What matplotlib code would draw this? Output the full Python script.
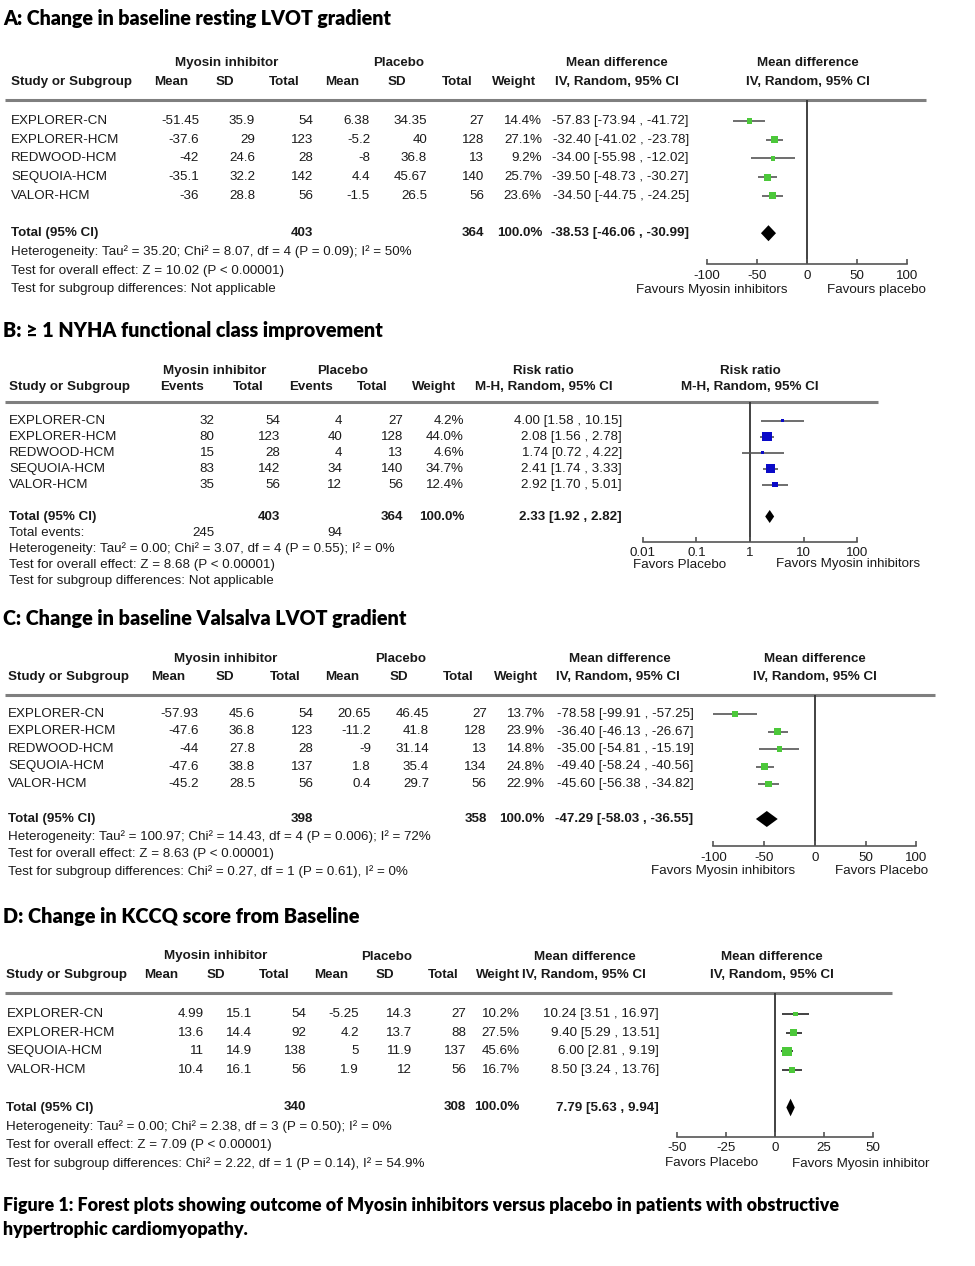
import matplotlib
matplotlib.use('Agg')
import matplotlib.pyplot as plt
from matplotlib.transforms import blended_transform_factory as blend
import numpy as np

plt.rcParams['font.family'] = ['Liberation Sans', 'DejaVu Sans']

# ---------------- DATA ----------------
# Panel A: Change in baseline resting LVOT gradient
A_studies = ['EXPLORER-CN', 'EXPLORER-HCM', 'REDWOOD-HCM', 'SEQUOIA-HCM', 'VALOR-HCM']
A_mi_mean = [-51.45, -37.6, -42, -35.1, -36]
A_mi_sd = [35.9, 29, 24.6, 32.2, 28.8]
A_mi_n = [54, 123, 28, 142, 56]
A_pl_mean = [6.38, -5.2, -8, 4.4, -1.5]
A_pl_sd = [34.35, 40, 36.8, 45.67, 26.5]
A_pl_n = [27, 128, 13, 140, 56]
A_weight = [14.4, 27.1, 9.2, 25.7, 23.6]
A_est = [-57.83, -32.40, -34.00, -39.50, -34.50]
A_lo = [-73.94, -41.02, -55.98, -48.73, -44.75]
A_hi = [-41.72, -23.78, -12.02, -30.27, -24.25]
A_total = [403, 364, -38.53, -46.06, -30.99]
A_notes = ['Heterogeneity: Tau\u00b2 = 35.20; Chi\u00b2 = 8.07, df = 4 (P = 0.09); I\u00b2 = 50%',
           'Test for overall effect: Z = 10.02 (P < 0.00001)',
           'Test for subgroup differences: Not applicable']
A_ticks = [-100, -50, 0, 50, 100]

# Panel B: >= 1 NYHA functional class improvement
B_studies = ['EXPLORER-CN', 'EXPLORER-HCM', 'REDWOOD-HCM', 'SEQUOIA-HCM', 'VALOR-HCM']
B_mi_ev = [32, 80, 15, 83, 35]
B_mi_n = [54, 123, 28, 142, 56]
B_pl_ev = [4, 40, 4, 34, 12]
B_pl_n = [27, 128, 13, 140, 56]
B_weight = [4.2, 44.0, 4.6, 34.7, 12.4]
B_est = [4.00, 2.08, 1.74, 2.41, 2.92]
B_lo = [1.58, 1.56, 0.72, 1.74, 1.70]
B_hi = [10.15, 2.78, 4.22, 3.33, 5.01]
B_total = [403, 364, 2.33, 1.92, 2.82]
B_events = [245, 94]
B_notes = ['Heterogeneity: Tau\u00b2 = 0.00; Chi\u00b2 = 3.07, df = 4 (P = 0.55); I\u00b2 = 0%',
           'Test for overall effect: Z = 8.68 (P < 0.00001)',
           'Test for subgroup differences: Not applicable']
B_ticks = [0.01, 0.1, 1, 10, 100]
B_ticklabels = ['0.01', '0.1', '1', '10', '100']

# Panel C: Change in baseline Valsalva LVOT gradient
C_studies = ['EXPLORER-CN', 'EXPLORER-HCM', 'REDWOOD-HCM', 'SEQUOIA-HCM', 'VALOR-HCM']
C_mi_mean = [-57.93, -47.6, -44, -47.6, -45.2]
C_mi_sd = [45.6, 36.8, 27.8, 38.8, 28.5]
C_mi_n = [54, 123, 28, 137, 56]
C_pl_mean = [20.65, -11.2, -9, 1.8, 0.4]
C_pl_sd = [46.45, 41.8, 31.14, 35.4, 29.7]
C_pl_n = [27, 128, 13, 134, 56]
C_weight = [13.7, 23.9, 14.8, 24.8, 22.9]
C_est = [-78.58, -36.40, -35.00, -49.40, -45.60]
C_lo = [-99.91, -46.13, -54.81, -58.24, -56.38]
C_hi = [-57.25, -26.67, -15.19, -40.56, -34.82]
C_total = [398, 358, -47.29, -58.03, -36.55]
C_notes = ['Heterogeneity: Tau\u00b2 = 100.97; Chi\u00b2 = 14.43, df = 4 (P = 0.006); I\u00b2 = 72%',
           'Test for overall effect: Z = 8.63 (P < 0.00001)',
           'Test for subgroup differences: Chi\u00b2 = 0.27, df = 1 (P = 0.61), I\u00b2 = 0%']
C_ticks = [-100, -50, 0, 50, 100]

# Panel D: Change in KCCQ score from Baseline
D_studies = ['EXPLORER-CN', 'EXPLORER-HCM', 'SEQUOIA-HCM', 'VALOR-HCM']
D_mi_mean = [4.99, 13.6, 11, 10.4]
D_mi_sd = [15.1, 14.4, 14.9, 16.1]
D_mi_n = [54, 92, 138, 56]
D_pl_mean = [-5.25, 4.2, 5, 1.9]
D_pl_sd = [14.3, 13.7, 11.9, 12]
D_pl_n = [27, 88, 137, 56]
D_weight = [10.2, 27.5, 45.6, 16.7]
D_est = [10.24, 9.40, 6.00, 8.50]
D_lo = [3.51, 5.29, 2.81, 3.24]
D_hi = [16.97, 13.51, 9.19, 13.76]
D_total = [340, 308, 7.79, 5.63, 9.94]
D_notes = ['Heterogeneity: Tau\u00b2 = 0.00; Chi\u00b2 = 2.38, df = 3 (P = 0.50); I\u00b2 = 0%',
           'Test for overall effect: Z = 7.09 (P < 0.00001)',
           'Test for subgroup differences: Chi\u00b2 = 2.22, df = 1 (P = 0.14), I\u00b2 = 54.9%']
D_ticks = [-50, -25, 0, 25, 50]

titles = ['A: Change in baseline resting LVOT gradient',
          'B: \u2265 1 NYHA functional class improvement',
          'C: Change in baseline Valsalva LVOT gradient',
          'D: Change in KCCQ score from Baseline']
caption = ['Figure 1: Forest plots showing outcome of Myosin inhibitors versus placebo in patients with obstructive',
           'hypertrophic cardiomyopathy.']

# ---------------- STYLE ----------------
W, H = 975, 1266
FS = 9.6
TXT = '#1a1a1a'
GREEN = '#4cc83a'
BLUE = '#0a0ac8'
TITLE_FONT = ['Lato', 'DejaVu Sans']
fig = plt.figure(figsize=(W / 100, H / 100), dpi=100)
bg = fig.add_axes([0, 0, 1, 1])
bg.set_xlim(0, W)
bg.set_ylim(H, 0)
bg.axis('off')
renderer = fig.canvas.get_renderer()


def fit_text(x, y, s, right, fs=12, **kw):
    t = bg.text(x, y, s, fontsize=fs, **kw)
    w = t.get_window_extent(renderer=renderer).width
    t.set_fontsize(fs * (right - x) / w)
    return t


def fmt(v):
    return f'{v:g}'


def ci(e, l, h):
    return f'{e:.2f} [{l:.2f} , {h:.2f}]'


def forest_axes(L):
    x0, x1 = L['px']
    y0 = L['row0']
    dy = L['dy']
    ax = fig.add_axes([x0 / W, 1 - L['axis_y'] / H, (x1 - x0) / W, (L['axis_y'] - L['line_y']) / H])
    ax.set_ylim((L['axis_y'] - y0) / dy, (L['line_y'] - y0) / dy)
    ax.patch.set_alpha(0)
    for s in ['top', 'left', 'right']:
        ax.spines[s].set_visible(False)
    ax.spines['bottom'].set_color('#555555')
    ax.spines['bottom'].set_linewidth(1.2)
    ax.set_yticks([])
    ax.tick_params(axis='x', direction='in', length=3.5, width=1.2, color='#555555',
                   labelsize=FS, labelcolor=TXT, pad=4)
    return ax


def draw_panel(L, title, hdr1, hdr2, rows, total_cells, extra_rows, notes,
               est, lo, hi, weight, tot_est, color, ticks, ticklabels, favours, log=False, ci_color='#555555'):
    ax = forest_axes(L)
    tr = blend(bg.transData, ax.transData)
    fit_text(3, L['title_y'], title, L['title_r'], fontweight='heavy', va='center', ha='left',
             color='black', family=TITLE_FONT)
    # headers
    for txt, x in hdr1:
        bg.text(x, L['h1'], txt, fontsize=FS, fontweight='bold', ha='center', va='center', color=TXT)
    for txt, x in hdr2:
        ha = 'left' if txt == 'Study or Subgroup' else 'center'
        bg.text(x, L['h2'], txt, fontsize=FS, fontweight='bold', ha=ha, va='center', color=TXT)
    bg.plot([5, L['line_x1']], [L['line_y'], L['line_y']], color='#7f7f7f', lw=2.2, solid_capstyle='butt')
    # rows
    n = len(rows)
    for i, cells in enumerate(rows):
        for txt, x, ha in cells:
            ax.text(x, i, txt, transform=tr, fontsize=FS, ha=ha, va='center', color=TXT)
    ti = n + 1
    for txt, x, ha in total_cells:
        ax.text(x, ti, txt, transform=tr, fontsize=FS, ha=ha, va='center', color=TXT, fontweight='bold')
    k = ti + 1
    for cells in extra_rows:
        for txt, x, ha in cells:
            ax.text(x, k, txt, transform=tr, fontsize=FS, ha=ha, va='center', color=TXT)
        k += 1
    for txt in notes:
        ax.text(L['x_study'], k, txt, transform=tr, fontsize=FS, ha='left', va='center', color=TXT)
        k += 1
    # forest marks
    if log:
        ax.set_xscale('log')
        ax.minorticks_off()
    ax.set_xlim(ticks[0], ticks[-1])
    ax.set_xticks(ticks)
    ax.set_xticklabels(ticklabels)
    ax.axvline(L['ref'], color='#333333', lw=1.3, zorder=1)
    yy = np.arange(n)
    ax.hlines(yy, lo, hi, color=ci_color, lw=1.2, zorder=2)
    side_pt = 1.4 * np.sqrt(np.array(weight)) * 0.72 * L.get('sq', 1.0)
    ax.scatter(est, yy, marker='s', s=side_pt ** 2, color=color, linewidths=0, zorder=3)
    e, l, h = tot_est
    hh = L['dh'] / L['dy']
    ax.fill([l, e, h, e], [ti, ti - hh, ti, ti + hh], color='black', lw=0, zorder=3)
    # right header
    bg.text(L['rx'], L['h1'], L['rh1'], fontsize=FS, fontweight='bold', ha='center', va='center', color=TXT)
    bg.text(L['rx'], L['h2'], L['rh2'], fontsize=FS, fontweight='bold', ha='center', va='center', color=TXT)
    bg.text(favours[0][1], L['fav_y'], favours[0][0], fontsize=FS, ha='center', va='center', color=TXT)
    bg.text(favours[1][1], L['fav_y'], favours[1][0], fontsize=FS, ha='center', va='center', color=TXT)
    return ax


# ---------------- Panel A ----------------
LA = dict(title_y=19, title_r=391, h1=63, h2=82, line_y=100, line_x1=926, row0=121, dy=18.7, axis_y=264,
          px=(707, 907), ref=0, dh=8, rx=808, rh1='Mean difference', rh2='IV, Random, 95% CI',
          fav_y=290, x_study=11)
colsA = [199, 255, 313, 370, 427, 484, 542, 689]
rowsA = []
for i in range(len(A_studies)):
    vals = [fmt(A_mi_mean[i]), fmt(A_mi_sd[i]), str(A_mi_n[i]), fmt(A_pl_mean[i]), fmt(A_pl_sd[i]),
            str(A_pl_n[i]), f'{A_weight[i]:.1f}%', ci(A_est[i], A_lo[i], A_hi[i])]
    rowsA.append([(A_studies[i], 11, 'left')] + [(v, x, 'right') for v, x in zip(vals, colsA)])
draw_panel(LA, titles[0],
           [('Myosin inhibitor', 227), ('Placebo', 399), ('Mean difference', 617)],
           [('Study or Subgroup', 11), ('Mean', 171), ('SD', 225), ('Total', 284), ('Mean', 342),
            ('SD', 397), ('Total', 457), ('Weight', 514), ('IV, Random, 95% CI', 617)],
           rowsA,
           [('Total (95% CI)', 11, 'left'), (str(A_total[0]), 313, 'right'), (str(A_total[1]), 484, 'right'),
            ('100.0%', 542, 'right'), (ci(*A_total[2:]), 689, 'right')],
           [], A_notes, A_est, A_lo, A_hi, A_weight, A_total[2:], GREEN,
           A_ticks, [str(t) for t in A_ticks],
           [('Favours Myosin inhibitors', 712), ('Favours placebo', 876)])

# ---------------- Panel B ----------------
LB = dict(title_y=331, title_r=381, h1=371, h2=387, line_y=402, line_x1=878, row0=420.5, dy=16, axis_y=541.7,
          px=(642.7, 857.3), ref=1, dh=6.5, rx=750, rh1='Risk ratio', rh2='M-H, Random, 95% CI',
          fav_y=564.5, x_study=9, sq=1.05)
colsB = [214.6, 280, 342, 403, 464, 622]
rowsB = []
for i in range(len(B_studies)):
    vals = [str(B_mi_ev[i]), str(B_mi_n[i]), str(B_pl_ev[i]), str(B_pl_n[i]), f'{B_weight[i]:.1f}%',
            ci(B_est[i], B_lo[i], B_hi[i])]
    rowsB.append([(B_studies[i], 9, 'left')] + [(v, x, 'right') for v, x in zip(vals, colsB)])
draw_panel(LB, titles[1],
           [('Myosin inhibitor', 214.6), ('Placebo', 342.6), ('Risk ratio', 543.6)],
           [('Study or Subgroup', 9), ('Events', 182), ('Total', 248), ('Events', 311), ('Total', 372.6),
            ('Weight', 434), ('M-H, Random, 95% CI', 543.6)],
           rowsB,
           [('Total (95% CI)', 9, 'left'), (str(B_total[0]), 280, 'right'), (str(B_total[1]), 403, 'right'),
            ('100.0%', 464, 'right'), (ci(*B_total[2:]), 622, 'right')],
           [[('Total events:', 9, 'left'), (str(B_events[0]), 214.6, 'right'), (str(B_events[1]), 342, 'right')]],
           B_notes, B_est, B_lo, B_hi, B_weight, B_total[2:], BLUE,
           B_ticks, B_ticklabels,
           [('Favors Placebo', 680), ('Favors Myosin inhibitors', 848)], log=True)

# ---------------- Panel C ----------------
LC = dict(title_y=619, title_r=406, h1=659, h2=677, line_y=694.5, line_x1=935, row0=714, dy=17.5, axis_y=846,
          px=(713.3, 916.3), ref=0, dh=8, rx=815, rh1='Mean difference', rh2='IV, Random, 95% CI',
          fav_y=871, x_study=8)
colsC = [198.4, 255, 313, 371, 429, 486.8, 544.6, 693.4]
rowsC = []
for i in range(len(C_studies)):
    vals = [fmt(C_mi_mean[i]), fmt(C_mi_sd[i]), str(C_mi_n[i]), fmt(C_pl_mean[i]), fmt(C_pl_sd[i]),
            str(C_pl_n[i]), f'{C_weight[i]:.1f}%', ci(C_est[i], C_lo[i], C_hi[i])]
    rowsC.append([(C_studies[i], 8, 'left')] + [(v, x, 'right') for v, x in zip(vals, colsC)])
draw_panel(LC, titles[2],
           [('Myosin inhibitor', 226), ('Placebo', 401), ('Mean difference', 620)],
           [('Study or Subgroup', 8), ('Mean', 168), ('SD', 225), ('Total', 285), ('Mean', 342.5),
            ('SD', 399), ('Total', 458.5), ('Weight', 516), ('IV, Random, 95% CI', 617.6)],
           rowsC,
           [('Total (95% CI)', 8, 'left'), (str(C_total[0]), 313, 'right'), (str(C_total[1]), 486.8, 'right'),
            ('100.0%', 544.6, 'right'), (ci(*C_total[2:]), 693.4, 'right')],
           [], C_notes, C_est, C_lo, C_hi, C_weight, C_total[2:], GREEN,
           C_ticks, [str(t) for t in C_ticks],
           [('Favors Myosin inhibitors', 722.7), ('Favors Placebo', 881.7)])

# ---------------- Panel D ----------------
LD = dict(title_y=916, title_r=358, h1=956.5, h2=975, line_y=993, line_x1=892, row0=1014, dy=18.7, axis_y=1136.7,
          px=(677.3, 873.3), ref=0, dh=8.8, rx=772, rh1='Mean difference', rh2='IV, Random, 95% CI',
          fav_y=1163.5, x_study=6.5)
colsD = [203.8, 252, 306, 359, 412, 466, 519.6, 659]
rowsD = []
for i in range(len(D_studies)):
    vals = [fmt(D_mi_mean[i]), fmt(D_mi_sd[i]), str(D_mi_n[i]), fmt(D_pl_mean[i]), fmt(D_pl_sd[i]),
            str(D_pl_n[i]), f'{D_weight[i]:.1f}%', ci(D_est[i], D_lo[i], D_hi[i])]
    rowsD.append([(D_studies[i], 6.5, 'left')] + [(v, x, 'right') for v, x in zip(vals, colsD)])
draw_panel(LD, titles[3],
           [('Myosin inhibitor', 216), ('Placebo', 387), ('Mean difference', 585)],
           [('Study or Subgroup', 6.5), ('Mean', 161), ('SD', 216), ('Total', 274.7), ('Mean', 331),
            ('SD', 385), ('Total', 443), ('Weight', 498), ('IV, Random, 95% CI', 584)],
           rowsD,
           [('Total (95% CI)', 6.5, 'left'), (str(D_total[0]), 306, 'right'), (str(D_total[1]), 466, 'right'),
            ('100.0%', 519.6, 'right'), (ci(*D_total[2:]), 659, 'right')],
           [], D_notes, D_est, D_lo, D_hi, D_weight, D_total[2:], GREEN,
           D_ticks, [str(t) for t in D_ticks],
           [('Favors Placebo', 711.7), ('Favors Myosin inhibitor', 860.7)], ci_color='#222222')

# caption
cap1 = fit_text(3, 1206, caption[0], 836, fontweight='heavy', va='center', ha='left', color='black',
                family=TITLE_FONT)
bg.text(3, 1229, caption[1], fontsize=cap1.get_fontsize(), fontweight='heavy', va='center', ha='left',
        color='black', family=TITLE_FONT)

fig.savefig('out.png', dpi=100)
